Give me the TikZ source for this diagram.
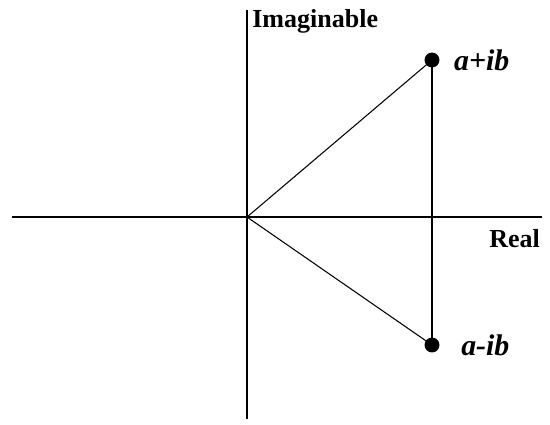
\documentclass[tikz,border=0pt]{standalone}
\usepackage{fontspec}
\setmainfont{Liberation Serif}
\usetikzlibrary{positioning}

\begin{document}
\begin{tikzpicture}[
    x=0.02cm, y=-0.02cm,
    axis/.style={line width=0.8pt},
    edge/.style={line width=0.6pt},
    pt/.style={circle, fill=black, inner sep=0pt, minimum size=8.5pt},
    lbl/.style={font=\fontsize{14.8}{16}\selectfont\bfseries, inner sep=0pt, anchor=base west},
    num/.style={font=\fontsize{17}{19}\selectfont\bfseries\itshape, inner sep=0pt}
]
\useasboundingbox (0,0) rectangle (550,424);

% Axes
\coordinate (o) at (247,217);
\coordinate (xl) at (12,217);
\coordinate (xr) at (542,217);
\coordinate (yt) at (247,10);
\coordinate (yb) at (247,419);
\draw[axis] (xl) -- (xr);
\draw[axis] (yt) -- (yb);

% Axis labels
\node[lbl] (im) at (252,27) {Imaginable};
\node[lbl] (re) at (489,247) {Real};

% Points
\node[pt] (p) at (432,60) {};
\node[pt] (q) at (432,345) {};
\node[num, right=8pt of p] (plbl) {a+ib};
\node[num, right=12pt of q] (qlbl) {a-ib};

% Lines
\draw[edge] (o) -- (p.center);
\draw[edge] (o) -- (q.center);
\draw[edge] (p.center) -- (q.center);

\end{tikzpicture}
\end{document}
